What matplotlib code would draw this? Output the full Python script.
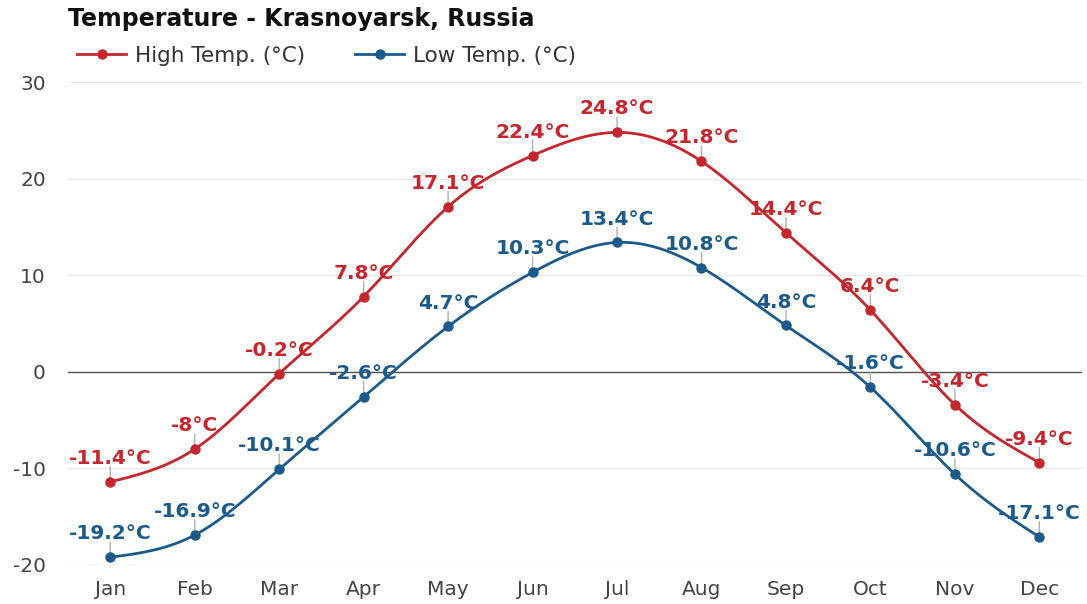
import numpy as np
import matplotlib.pyplot as plt
from matplotlib.lines import Line2D

plt.rcParams["font.family"] = ["DejaVu Sans"]
plt.rcParams["axes.unicode_minus"] = False

months = ["Jan", "Feb", "Mar", "Apr", "May", "Jun", "Jul", "Aug", "Sep", "Oct", "Nov", "Dec"]
high_temp = [-11.4, -8, -0.2, 7.8, 17.1, 22.4, 24.8, 21.8, 14.4, 6.4, -3.4, -9.4]
low_temp = [-19.2, -16.9, -10.1, -2.6, 4.7, 10.3, 13.4, 10.8, 4.8, -1.6, -10.6, -17.1]

red = "#c4262e"
blue = "#1c5a8c"


def smooth(y, n=30):
    # natural cubic spline through the points, only for drawing the curve
    y = np.asarray(y, dtype=float)
    m = len(y)
    A = np.zeros((m, m))
    b = np.zeros(m)
    A[0, 0] = A[-1, -1] = 1
    for i in range(1, m - 1):
        A[i, i - 1], A[i, i], A[i, i + 1] = 1, 4, 1
        b[i] = 6 * (y[i + 1] - 2 * y[i] + y[i - 1])
    M = np.linalg.solve(A, b)
    xs, ys = [], []
    for i in range(m - 1):
        t = np.linspace(0, 1, n, endpoint=False)
        v = (M[i] * (1 - t) ** 3 / 6 + M[i + 1] * t ** 3 / 6
             + (y[i] - M[i] / 6) * (1 - t) + (y[i + 1] - M[i + 1] / 6) * t)
        xs.append(i + t)
        ys.append(v)
    xs.append([m - 1])
    ys.append([y[-1]])
    return np.concatenate(xs), np.concatenate(ys)


fig = plt.figure(figsize=(10.87, 6.04), dpi=100)
ax = fig.add_axes([0.0626, 0.0646, 0.9324, 0.7994])

x = np.arange(len(months))
for vals, col in [(high_temp, red), (low_temp, blue)]:
    sx, sy = smooth(vals)
    ax.plot(sx, sy, color=col, lw=2, zorder=3)
    ax.plot(x, vals, "o", color=col, ms=6.5, zorder=4)
    for xi, v in zip(x, vals):
        ax.annotate("", xy=(xi, v), xytext=(0, 11), textcoords="offset points",
                    xycoords="data",
                    arrowprops=dict(arrowstyle="-", color="#b0b0b0", lw=1, shrinkA=0, shrinkB=3))
        ax.annotate(f"{v:g}°C", xy=(xi, v), xytext=(0, 10), textcoords="offset points",
                    ha="center", va="bottom", color=col, fontsize=14.5, fontweight="bold", zorder=5)

ax.set_xlim(-0.5, 11.5)
ax.set_ylim(-20, 30)
ax.set_yticks([-20, -10, 0, 10, 20, 30])
ax.set_xticks(x)
ax.set_xticklabels(months)
ax.grid(axis="y", color="#e8e8e8", lw=1)
ax.axhline(0, color="#555555", lw=1, zorder=2)
ax.set_axisbelow(True)
for s in ax.spines.values():
    s.set_visible(False)
ax.tick_params(length=0, labelsize=14.5, colors="#444444", pad=11)
ax.tick_params(axis="y", pad=16)

fig.text(0.0626, 0.968, "Temperature - Krasnoyarsk, Russia", fontsize=17, fontweight="bold",
         ha="left", va="center", color="#111111")
handles = [Line2D([], [], color=red, lw=2, marker="o", ms=6.5),
           Line2D([], [], color=blue, lw=2, marker="o", ms=6.5)]
fig.legend(handles, ["High Temp. (°C)", "Low Temp. (°C)"], loc="center left",
           bbox_to_anchor=(0.053, 0.908), ncol=2, frameon=False, fontsize=15.5,
           handlelength=2.3, columnspacing=2.3, handletextpad=0.4, labelcolor="#333333")

fig.savefig("out.png", dpi=100)
